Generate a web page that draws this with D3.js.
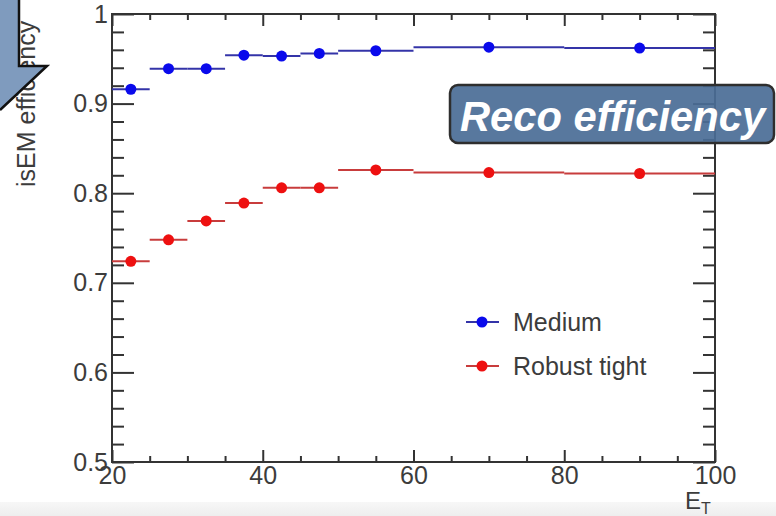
<!DOCTYPE html>
<html>
<head>
<meta charset="utf-8">
<script src="https://cdn.jsdelivr.net/npm/d3@7"></script>
<style>
  html, body { margin: 0; padding: 0; background: #ffffff; }
  svg { display: block; }
  text { font-family: "Liberation Sans", Arial, Helvetica, sans-serif; }
</style>
</head>
<body>
<svg id="chart" width="776" height="516"></svg>
<script>
// E_T bins (GeV) and the efficiency measured in each
const binLow    = [20, 25, 30, 35, 40, 45, 50, 60, 80];
const binHigh   = [25, 30, 35, 40, 45, 50, 60, 80, 100];
const binCenter = [22.5, 27.5, 32.5, 37.5, 42.5, 47.5, 55, 70, 90];

const mediumEff      = [0.916, 0.939, 0.939, 0.954, 0.953, 0.956, 0.959, 0.963, 0.962];
const robustTightEff = [0.724, 0.748, 0.769, 0.789, 0.806, 0.806, 0.826, 0.823, 0.822];

const seriesNames = ["Medium", "Robust tight"];

const xMajorTicks = [20, 40, 60, 80, 100];
const yMajorTicks = [0.5, 0.6, 0.7, 0.8, 0.9, 1];
const yTickLabels = ["0.5", "0.6", "0.7", "0.8", "0.9", "1"];

const xTitle = "E";
const xTitleSub = "T";
const yTitle = "isEM efficiency";
const bannerText = "Reco efficiency";

const svg = d3.select("#chart");

const plotLeft = 112, plotRight = 715, plotTop = 14, plotBottom = 462;
const x = d3.scaleLinear().domain([20, 100]).range([plotLeft, plotRight]);
const y = d3.scaleLinear().domain([0.5, 1]).range([plotBottom, plotTop]);

const axisColor = "#333333";
const labelColor = "#3c3c3c";

// light band along the lower edge
const grad = svg.append("defs").append("linearGradient")
  .attr("id", "band").attr("x1", 0).attr("y1", 0).attr("x2", 0).attr("y2", 1);
grad.append("stop").attr("offset", "0%").attr("stop-color", "#f7f7f7");
grad.append("stop").attr("offset", "100%").attr("stop-color", "#eeeeee");
svg.append("rect").attr("x", 0).attr("y", 502).attr("width", 776).attr("height", 14)
  .attr("fill", "url(#band)");

// minor ticks every 5 GeV / 0.02
const xMinor = d3.range(20, 100.001, 5).filter(v => !xMajorTicks.includes(v));
const yMinor = d3.range(0.5, 1.0001, 0.02).map(v => +v.toFixed(2))
  .filter(v => !yMajorTicks.some(t => Math.abs(t - v) < 1e-6));

function styleAxis(g) {
  g.select(".domain").remove();
  g.selectAll(".tick line").attr("stroke", axisColor).attr("stroke-width", 2);
  g.selectAll(".tick text").attr("fill", labelColor)
    .style("font-size", "25px").style("font-family", "'Liberation Sans', Arial, sans-serif");
}

// bottom axis: ticks point up into the frame
svg.append("g").attr("transform", `translate(0,${plotBottom})`)
  .call(d3.axisBottom(x).tickValues(xMinor).tickSizeInner(-6).tickSizeOuter(0).tickFormat(""))
  .call(styleAxis);
svg.append("g").attr("transform", `translate(0,${plotBottom})`)
  .call(d3.axisBottom(x).tickValues(xMajorTicks).tickSizeInner(-12).tickSizeOuter(0)
    .tickPadding(4).tickFormat(d3.format("d")))
  .call(styleAxis);

// top axis mirror
svg.append("g").attr("transform", `translate(0,${plotTop})`)
  .call(d3.axisTop(x).tickValues(xMinor).tickSizeInner(-6).tickSizeOuter(0).tickFormat(""))
  .call(styleAxis);
svg.append("g").attr("transform", `translate(0,${plotTop})`)
  .call(d3.axisTop(x).tickValues(xMajorTicks).tickSizeInner(-12).tickSizeOuter(0).tickFormat(""))
  .call(styleAxis);

// left axis: ticks point right into the frame
svg.append("g").attr("transform", `translate(${plotLeft},0)`)
  .call(d3.axisLeft(y).tickValues(yMinor).tickSizeInner(-12).tickSizeOuter(0).tickFormat(""))
  .call(styleAxis);
svg.append("g").attr("transform", `translate(${plotLeft},0)`)
  .call(d3.axisLeft(y).tickValues(yMajorTicks).tickSizeInner(-22).tickSizeOuter(0)
    .tickPadding(4).tickFormat((d, i) => yTickLabels[i]))
  .call(styleAxis);

// right axis mirror
svg.append("g").attr("transform", `translate(${plotRight},0)`)
  .call(d3.axisRight(y).tickValues(yMinor).tickSizeInner(-12).tickSizeOuter(0).tickFormat(""))
  .call(styleAxis);
svg.append("g").attr("transform", `translate(${plotRight},0)`)
  .call(d3.axisRight(y).tickValues(yMajorTicks).tickSizeInner(-22).tickSizeOuter(0).tickFormat(""))
  .call(styleAxis);

// frame
svg.append("rect")
  .attr("x", plotLeft).attr("y", plotTop)
  .attr("width", plotRight - plotLeft).attr("height", plotBottom - plotTop)
  .attr("fill", "none").attr("stroke", axisColor).attr("stroke-width", 2);

// series: horizontal bin-width bars with a marker at the bin centre
const series = [
  { name: seriesNames[0], values: mediumEff, line: "#3434a8", marker: "#0a0aec" },
  { name: seriesNames[1], values: robustTightEff, line: "#c83c3c", marker: "#ee1010" }
];

series.forEach(s => {
  const g = svg.append("g");
  const rows = binCenter.map((c, i) => ({ lo: binLow[i], hi: binHigh[i], c, v: s.values[i] }));
  g.selectAll("line.bin").data(rows).join("line")
    .attr("class", "bin")
    .attr("x1", d => x(d.lo)).attr("x2", d => x(d.hi))
    .attr("y1", d => y(d.v)).attr("y2", d => y(d.v))
    .attr("stroke", s.line).attr("stroke-width", 2);
  g.selectAll("circle").data(rows).join("circle")
    .attr("cx", d => x(d.c)).attr("cy", d => y(d.v)).attr("r", 5.5)
    .attr("fill", s.marker);
});

// legend
const legend = svg.append("g");
series.forEach((s, i) => {
  const ly = 322 + i * 44;
  legend.append("line").attr("x1", 466).attr("x2", 499).attr("y1", ly).attr("y2", ly)
    .attr("stroke", s.line).attr("stroke-width", 2);
  legend.append("circle").attr("cx", 482).attr("cy", ly).attr("r", 5.5).attr("fill", s.marker);
  legend.append("text").attr("x", 513).attr("y", ly + 9)
    .attr("fill", labelColor).style("font-size", "25px").text(s.name);
});

// x title E_T
const xt = svg.append("text").attr("x", 685).attr("y", 509)
  .attr("fill", labelColor).style("font-size", "24px");
xt.append("tspan").text(xTitle);
xt.append("tspan").attr("dy", 5).style("font-size", "16px").text(xTitleSub);

// y title, rotated
svg.append("text")
  .attr("transform", "translate(35,187) rotate(-90)")
  .attr("fill", labelColor).style("font-size", "25px")
  .text(yTitle);

// corner callout shape
svg.append("path")
  .attr("d", "M0,0 L19,0 L19,66 L47,66 L0,110 Z")
  .attr("fill", "#7f9bbe").attr("stroke", "none");
svg.append("path")
  .attr("d", "M19,0 L19,66 L47,66 L0,110")
  .attr("fill", "none").attr("stroke", "#111").attr("stroke-width", 2.5)
  .attr("stroke-linejoin", "miter");

// banner
const bx = 450, by = 85, bw = 324, bh = 58;
svg.append("rect").attr("x", bx).attr("y", by).attr("width", bw).attr("height", bh)
  .attr("rx", 8).attr("ry", 8)
  .attr("fill", "#4a6d96").attr("fill-opacity", 0.92)
  .attr("stroke", "#2e2e2e").attr("stroke-width", 2.5);
const bt = svg.append("text").attr("x", 460).attr("y", 131)
  .attr("fill", "#ffffff").style("font-size", "42px")
  .style("font-weight", "bold").style("font-style", "italic")
  .text(bannerText);
const want = 305;
const got = bt.node().getComputedTextLength();
if (got > 0) bt.style("font-size", (42 * want / got).toFixed(1) + "px");
</script>
</body>
</html>
